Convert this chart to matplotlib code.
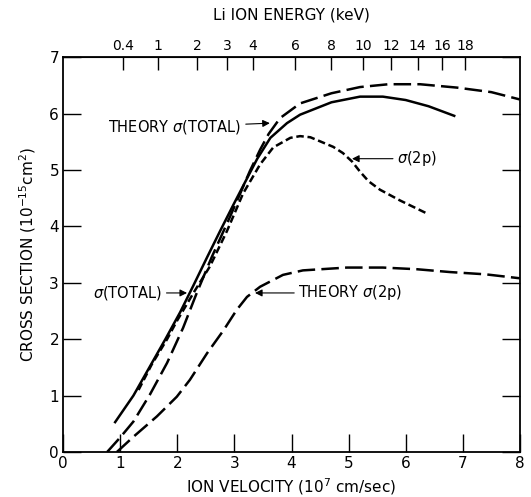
import numpy as np
import matplotlib.pyplot as plt

# experimental sigma(total), solid
tot_v = [0.91, 1.23, 1.51, 1.79, 2.05, 2.28, 2.52, 2.75, 2.98, 3.22, 3.4, 3.63, 3.92, 4.15, 4.7, 5.2, 5.6, 6.0, 6.4, 6.85]
tot_y = [0.53, 1.0, 1.5, 2.0, 2.48, 2.95, 3.45, 3.92, 4.38, 4.85, 5.2, 5.57, 5.83, 5.98, 6.2, 6.3, 6.3, 6.24, 6.13, 5.96]

# theory sigma(total), long dash
th_tot_v = [0.77, 1.0, 1.23, 1.52, 1.82, 2.1, 2.34, 2.6, 2.9, 3.1, 3.27, 3.45, 3.6, 3.8, 4.15, 4.7, 5.2, 5.7, 6.25, 6.9, 7.5, 8.0]
th_tot_y = [0.0, 0.26, 0.54, 1.02, 1.58, 2.2, 2.82, 3.45, 4.12, 4.58, 4.98, 5.36, 5.64, 5.92, 6.18, 6.36, 6.47, 6.52, 6.52, 6.46, 6.38, 6.25]

# experimental sigma(2p), short dash
p2_v = [1.32, 1.55, 1.82, 1.99, 2.3, 2.57, 2.87, 3.15, 3.45, 3.68, 3.98, 4.15, 4.33, 4.73, 4.9, 5.06, 5.2, 5.35, 5.55, 5.9, 6.37]
p2_y = [1.1, 1.55, 2.0, 2.32, 2.85, 3.29, 3.92, 4.58, 5.1, 5.4, 5.57, 5.6, 5.58, 5.41, 5.3, 5.15, 4.97, 4.8, 4.65, 4.46, 4.23]

# theory sigma(2p), long dash
th_p2_v = [0.94, 1.23, 1.64, 1.99, 2.22, 2.52, 2.81, 3.04, 3.22, 3.45, 3.85, 4.2, 4.97, 5.6, 6.2, 6.78, 7.4, 8.0]
th_p2_y = [0.0, 0.27, 0.63, 0.98, 1.28, 1.75, 2.16, 2.52, 2.75, 2.93, 3.14, 3.22, 3.27, 3.27, 3.24, 3.19, 3.15, 3.08]

energy_ticks = [0.4, 1, 2, 3, 4, 6, 8, 10, 12, 14, 16, 18]
energy_labels = ['0.4', '1', '2', '3', '4', '6', '8', '10', '12', '14', '16', '18']

plt.rcParams['font.family'] = 'DejaVu Sans'

fig = plt.figure(figsize=(5.31, 4.97), dpi=100)
ax = fig.add_axes([0.119, 0.0905, 0.860, 0.7945])

ax.plot(tot_v, tot_y, color='black', lw=1.8)
ax.plot(th_tot_v, th_tot_y, color='black', lw=1.8, linestyle=(0, (7, 2.5)))
ax.plot(p2_v, p2_y, color='black', lw=1.8, linestyle=(0, (3, 1.5)))
ax.plot(th_p2_v, th_p2_y, color='black', lw=1.8, linestyle=(0, (7, 2.5)))

ax.set_xlim(0, 8)
ax.set_ylim(0, 7)
ax.set_xticks(range(9))
ax.set_yticks(range(8))
ax.tick_params(axis='x', direction='in', length=13, width=1, labelsize=11, pad=3)
ax.tick_params(axis='y', direction='in', length=13, width=1, labelsize=11, right=True, pad=3)
for s in ax.spines.values():
    s.set_linewidth(1.3)

ax.set_xlabel('ION VELOCITY (10$^7$ cm/sec)', fontsize=11, labelpad=4)
ax.set_ylabel('CROSS SECTION (10$^{-15}$cm$^2$)', fontsize=11, labelpad=8)

sec = ax.secondary_xaxis('top', functions=(lambda v: (np.abs(v) / 1.66) ** 2,
                                           lambda e: 1.66 * np.sqrt(np.abs(e))))
sec.set_xticks(energy_ticks)
sec.set_xticklabels(energy_labels)
sec.tick_params(direction='in', length=9, width=1, labelsize=10, pad=3)
sec.set_xlabel('Li ION ENERGY (keV)', fontsize=11, labelpad=14)

fs = 10.5
ax.annotate('THEORY $\\sigma$(TOTAL)', xy=(3.62, 5.83), xytext=(0.79, 5.76),
            fontsize=fs, va='center',
            arrowprops=dict(arrowstyle='-|>', color='black', lw=0.8, shrinkA=1, shrinkB=0))
ax.annotate('$\\sigma$(TOTAL)', xy=(2.17, 2.82), xytext=(0.53, 2.82),
            fontsize=fs, va='center',
            arrowprops=dict(arrowstyle='-|>', color='black', lw=0.8, shrinkA=1, shrinkB=0))
ax.annotate('$\\sigma$(2p)', xy=(5.06, 5.2), xytext=(5.85, 5.2),
            fontsize=fs, va='center',
            arrowprops=dict(arrowstyle='-|>', color='black', lw=0.8, shrinkA=1, shrinkB=0))
ax.annotate('THEORY $\\sigma$(2p)', xy=(3.36, 2.82), xytext=(4.12, 2.82),
            fontsize=fs, va='center',
            arrowprops=dict(arrowstyle='-|>', color='black', lw=0.8, shrinkA=1, shrinkB=0))

fig.savefig('out.png', dpi=100)
